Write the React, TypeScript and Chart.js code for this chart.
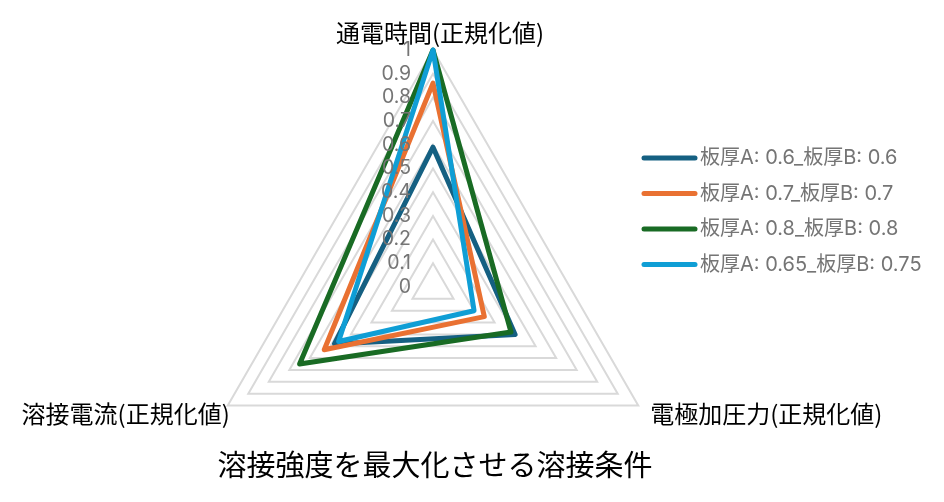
import React, { useEffect, useRef } from 'react';
import { Chart, registerables, Plugin } from 'chart.js';

Chart.register(...registerables);

const axisLabels = ['通電時間(正規化値)', '電極加圧力(正規化値)', '溶接電流(正規化値)'];
const tickValues = [0, 0.1, 0.2, 0.3, 0.4, 0.5, 0.6, 0.7, 0.8, 0.9, 1];
const tickLabels = ['0', '0.1', '0.2', '0.3', '0.4', '0.5', '0.6', '0.7', '0.8', '0.9', '1'];

const seriesNames = [
  '板厚A: 0.6_板厚B: 0.6',
  '板厚A: 0.7_板厚B: 0.7',
  '板厚A: 0.8_板厚B: 0.8',
  '板厚A: 0.65_板厚B: 0.75',
];
const series06 = [0.59, 0.4, 0.48];
const series07 = [0.86, 0.25, 0.53];
const series08 = [1.0, 0.38, 0.65];
const series0675 = [1.0, 0.2, 0.46];
const seriesColors = ['#156082', '#E97132', '#196B24', '#0F9ED5'];

const chartTitle = '溶接強度を最大化させる溶接条件';

const JP_FONT = '"Noto Sans CJK JP", "Noto Sans", sans-serif';
const NUM_FONT = 'Inter, "Noto Sans CJK JP", sans-serif';

// draws tick labels, axis labels, legend and title by hand
const decorPlugin: Plugin<'radar'> = {
  id: 'decor',
  afterDraw(chart) {
    const ctx = chart.ctx;
    const scale: any = chart.scales.r;
    ctx.save();

    // tick labels to the left of the vertical axis
    ctx.fillStyle = '#757575';
    ctx.font = `19.5px ${NUM_FONT}`;
    ctx.textAlign = 'right';
    ctx.textBaseline = 'middle';
    tickValues.forEach((v, i) => {
      const d = scale.getDistanceFromCenterForValue(v);
      ctx.fillText(tickLabels[i], scale.xCenter - 22, scale.yCenter - d);
    });

    // axis labels
    ctx.fillStyle = '#000';
    ctx.font = `24px ${JP_FONT}`;
    const r = scale.drawingArea;
    const top = scale.getPointPosition(0, r);
    ctx.textAlign = 'center';
    ctx.textBaseline = 'bottom';
    ctx.fillText(axisLabels[0], top.x + 7, top.y - 5);
    const right = scale.getPointPosition(1, r);
    ctx.textAlign = 'left';
    ctx.textBaseline = 'middle';
    ctx.fillText(axisLabels[1], right.x + 12, right.y + 8);
    const left = scale.getPointPosition(2, r);
    ctx.textAlign = 'right';
    ctx.fillText(axisLabels[2], left.x + 2, left.y + 8);

    // legend
    const legendX = 636;
    const legendY = 150;
    const legendStep = 35.5;
    chart.data.datasets.forEach((ds, i) => {
      const y = legendY + i * legendStep;
      ctx.strokeStyle = ds.borderColor as string;
      ctx.lineWidth = 5;
      ctx.lineCap = 'round';
      ctx.beginPath();
      ctx.moveTo(legendX, y);
      ctx.lineTo(legendX + 51, y);
      ctx.stroke();
      ctx.fillStyle = '#757575';
      ctx.font = `20px ${NUM_FONT}`;
      ctx.textAlign = 'left';
      ctx.textBaseline = 'middle';
      ctx.fillText(ds.label as string, legendX + 56, y);
    });

    // title
    ctx.fillStyle = '#000';
    ctx.font = `29px ${JP_FONT}`;
    ctx.textAlign = 'center';
    ctx.textBaseline = 'middle';
    ctx.fillText(chartTitle, 427, 457);

    ctx.restore();
  },
};

const RadarChart: React.FC = () => {
  const chartRef = useRef<HTMLCanvasElement>(null);

  useEffect(() => {
    if (!chartRef.current) return;
    const values = [series06, series07, series08, series0675];
    const chart = new Chart(chartRef.current, {
      type: 'radar',
      data: {
        labels: axisLabels,
        datasets: values.map((data, i) => ({
          label: seriesNames[i],
          data,
          borderColor: seriesColors[i],
          backgroundColor: seriesColors[i],
          borderWidth: 5,
          borderJoinStyle: 'round' as const,
          fill: false,
          pointRadius: 0,
          pointHoverRadius: 0,
          order: values.length - i,
        })),
      },
      options: {
        responsive: true,
        maintainAspectRatio: false,
        animation: false,
        layout: { padding: 0 },
        plugins: {
          legend: { display: false },
          tooltip: { enabled: false },
        },
        scales: {
          r: {
            min: 0,
            max: 1,
            ticks: { stepSize: 0.1, display: false },
            grid: { color: '#d9d9d9', lineWidth: 2 },
            angleLines: { display: false },
            pointLabels: { display: false },
            afterFit: (scale: any) => {
              scale.xCenter = 425;
              scale.yCenter = 279;
              scale.drawingArea = 237;
            },
          },
        },
      },
      plugins: [decorPlugin],
    });

    return () => {
      chart.destroy();
    };
  }, []);

  return (
    <div style={{ position: 'relative', width: 928, height: 486 }}>
      <canvas ref={chartRef}></canvas>
    </div>
  );
};

export default function App() {
  return <RadarChart />;
}
